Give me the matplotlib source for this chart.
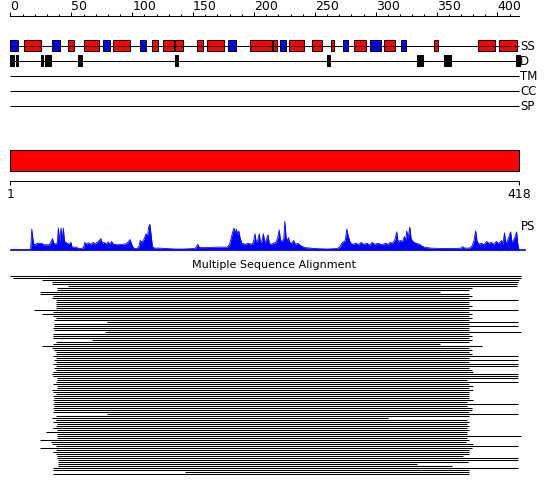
import matplotlib
matplotlib.use("Agg")
import matplotlib.pyplot as plt

# ----------------------------------------------------
# Sequence features (residue positions)
# ----------------------------------------------------

seq_len = 418

ruler_major = list(range(0, 401, 50))
ruler_minor = list(range(0, 411, 10))

track_names = ["SS", "D", "TM", "CC", "SP"]

# secondary structure: H = helix (red), E = strand (blue)
ss_start = [0, 11, 34, 47, 60, 76, 84, 106, 116, 125, 135, 153, 161, 179,
            197, 216, 221, 229, 248, 263, 273, 282, 295, 307, 321, 348, 384, 401]
ss_end = [6, 25, 41, 52, 73, 82, 98, 111, 121, 134, 142, 158, 175, 185,
          215, 219, 226, 241, 256, 266, 277, 292, 304, 316, 325, 351, 398, 416]
ss_type = ["E", "H", "E", "H", "H", "E", "H", "E", "H", "H", "H", "H", "H", "E",
           "H", "H", "E", "H", "H", "H", "E", "H", "E", "H", "E", "H", "H", "H"]

# disordered regions
d_start = [0, 4.8, 25.1, 28.6, 55.4, 135.1, 260.2, 334.1, 356.1, 415.2]
d_end = [2.9, 6.4, 26.7, 33.0, 58.7, 137.6, 262.2, 338.4, 361.8, 418.6]

# domain
dom_start = 1
dom_end = 418

# PS profile (residue, score)
ps_pos = [0, 16.5, 17.5, 18.5, 19.5, 22, 26, 27, 32, 33.5, 34.5, 35.5, 37, 38.5,
          39.3, 40.3, 41.5, 42.5, 43.4, 44.3, 46, 48, 49.7, 50.5, 54, 55, 58, 60,
          61, 62.5, 64, 66, 68, 69.5, 71, 73, 74.2, 75.5, 77, 79, 80, 81.5, 83,
          84.5, 88, 92, 95, 97, 98.2, 99.5, 101, 104, 105.5, 106.5, 108, 109.5,
          111.3, 112.5, 113.5, 114.5, 115.5, 116.5, 118, 122, 128, 135, 142, 150,
          152, 153.9, 155, 160, 170, 178, 180, 181.5, 182.5, 183.6, 184.5, 185.5,
          186.5, 187.5, 188.5, 190, 193, 195, 198, 199.5, 200.8, 201.8, 203,
          204.3, 205.3, 206.5, 207.7, 208.8, 210, 211.5, 212.5, 214, 216, 218,
          219.5, 220.7, 221.8, 223, 224.5, 225.3, 226.3, 227.5, 228.3, 229.3, 231,
          232.5, 234, 236, 238, 240, 242, 250, 260, 268, 270.5, 272, 275, 276.2,
          277.5, 279, 281, 284, 286, 288, 290, 293, 295, 297, 299, 302, 305, 308,
          310, 312, 313.6, 315.5, 317.3, 318.3, 320, 322, 323.5, 324.5, 325.5,
          326.5, 328, 329, 330.5, 333, 336, 338, 340, 345, 355, 365, 370, 371.5,
          373, 377, 379, 380.5, 382.1, 383.2, 385, 387, 389, 391, 393, 395, 397,
          399, 400.5, 402, 403.5, 404.5, 405.7, 406.7, 408, 410.8, 411.8, 413,
          414.5, 415.7, 416.5, 417.2, 418]
ps_val = [0, 0, 22, 10, 5, 7, 7, 5.5, 5.5, 9, 12, 7, 6, 8,
          23, 9, 23, 10, 23, 9, 7.5, 6, 8, 3, 3, 2, 1.5, 2.5,
          8, 6, 7.5, 6, 8, 6, 8, 10, 12, 7, 8, 6, 8.5, 6, 9,
          6, 5.5, 6, 6.5, 9, 11, 6, 2, 1.5, 4, 10, 8, 11,
          17, 14, 24, 27, 15, 4, 2, 2, 1.5, 1, 1, 1.5,
          2, 6, 2.5, 2.5, 3, 3, 6, 14, 19, 23, 17, 22,
          16, 20, 13, 7, 6, 7, 6, 8, 17, 8, 10,
          17, 8, 9, 17, 8, 10, 16, 7, 6, 7, 8,
          13, 21, 10, 9, 12, 30, 14, 9, 13, 8, 7,
          10, 6, 7, 5, 3.5, 2.5, 1.5, 1, 1.5, 3, 7, 10, 22,
          14, 8, 6, 7, 5.5, 8, 6, 7, 5, 8, 6, 7, 5.5, 7,
          6, 8, 7, 10, 19, 8, 10, 9, 14, 10, 20,
          12, 24, 12, 9, 7, 6, 4, 3, 2, 1.5, 1.5, 2, 3.5,
          2, 2, 4, 9, 20, 9, 6, 7, 5.5, 9, 7, 8, 6,
          9, 7, 8, 10, 6, 18, 8, 9, 19, 8, 10,
          14, 19, 8, 2, 0]

# multiple sequence alignment: one row per hit (start / end residue)
msa_start = [0, 2, 26, 34, 34, 47, 38, 38, 24, 24,
             35, 34, 37, 37, 37, 37, 37, 19, 35, 26,
             35, 37, 36, 79, 36, 36, 35, 36, 78, 35,
             35, 35, 67, 37, 35, 26, 34, 36, 37, 37,
             35, 37, 36, 37, 35, 37, 36, 37, 35, 34,
             35, 38, 38, 37, 35, 38, 38, 34, 35, 37,
             35, 36, 35, 36, 35, 36, 35, 36, 35, 79,
             37, 34, 37, 35, 38, 37, 35, 38, 29, 38,
             38, 38, 24, 33, 34, 37, 24, 37, 35, 37,
             38, 38, 39, 39, 39, 39, 35, 35, 143, 35]
msa_end = [419, 419, 418, 417, 416, 416, 379, 377, 353, 377,
           379, 377, 417, 377, 377, 379, 377, 417, 377, 379,
           377, 379, 377, 417, 377, 417, 377, 377, 419, 377,
           379, 377, 379, 377, 353, 387, 377, 379, 377, 379,
           417, 377, 417, 377, 417, 417, 377, 379, 380, 417,
           417, 417, 375, 417, 377, 380, 377, 380, 377, 377,
           377, 377, 380, 375, 417, 375, 379, 379, 377, 417,
           377, 310, 375, 377, 375, 377, 375, 377, 375, 375,
           419, 375, 377, 374, 380, 417, 379, 377, 377, 377,
           372, 417, 417, 376, 334, 363, 417, 377, 377, 377]

# ----------------------------------------------------
# Layout (pixels)
# ----------------------------------------------------

W, H = 550, 495
S = 1.2175      # pixels per residue
X0 = 10.5       # pixel x of residue 0
full_xlim = (-X0 / S, (W - X0) / S)

fig = plt.figure(figsize=(W / 100, H / 100), dpi=100)
fig.patch.set_facecolor("white")


def px_axes(x0, y0, x1, y1):
    return fig.add_axes([x0 / W, 1 - y1 / H, (x1 - x0) / W, (y1 - y0) / H])


def hide_spines(ax, keep=()):
    for name, sp in ax.spines.items():
        sp.set_visible(name in keep)
    ax.patch.set_visible(False)


# ----------------------------------------------------
# Top ruler
# ----------------------------------------------------

ax_r = px_axes(0, 15.5, W, 25)
ax_r.set_xlim(full_xlim)
ax_r.set_ylim(0, 1)
hide_spines(ax_r, keep=("top",))
ax_r.spines["top"].set_bounds(0, seq_len)
ax_r.spines["top"].set_linewidth(0.75)
ax_r.xaxis.tick_top()
ax_r.set_xticks(ruler_major)
ax_r.set_xticks(ruler_minor, minor=True)
ax_r.set_xticklabels([str(v) for v in ruler_major])
ax_r.tick_params(axis="x", which="major", direction="out", length=2.6,
                 width=0.75, pad=-1.0, labelsize=9)
ax_r.tick_params(axis="x", which="minor", direction="out", length=1.4,
                 width=0.75)
for lab in ax_r.get_xticklabels():
    lab.set_horizontalalignment("left")
ax_r.set_yticks([])

# ----------------------------------------------------
# Feature tracks
# ----------------------------------------------------

ax_t = px_axes(0, 38, W, 113)
ax_t.set_xlim(full_xlim)
ax_t.set_ylim(len(track_names) - 0.5, -0.5)
ax_t.set_axis_off()

ax_t.hlines(range(len(track_names)), 0, seq_len, color="black", lw=0.75)

ss_colors = ["#0000FF" if t == "E" else "#FF0000" for t in ss_type]
ax_t.barh([0] * len(ss_start),
          [e - s for s, e in zip(ss_start, ss_end)],
          left=ss_start, height=0.72,
          color=ss_colors, edgecolor="black", linewidth=0.75)

ax_t.barh([1] * len(d_start),
          [e - s for s, e in zip(d_start, d_end)],
          left=d_start, height=0.72,
          color="black", edgecolor="black", linewidth=0.75)

for i, name in enumerate(track_names):
    ax_t.annotate(name, (seq_len, i), xytext=(0.5, -3.2),
                  textcoords="offset points", ha="left", va="baseline",
                  fontsize=8.5)

# ----------------------------------------------------
# Domain bar and sequence ruler
# ----------------------------------------------------

ax_d = px_axes(0, 150, W, 180.7)
ax_d.set_xlim(full_xlim)
ax_d.set_ylim(1, 0)
hide_spines(ax_d, keep=("bottom",))
ax_d.spines["bottom"].set_bounds(dom_start - 1, dom_end)
ax_d.spines["bottom"].set_linewidth(0.75)

ax_d.barh(0.337, dom_end - dom_start + 1, left=dom_start - 1, height=0.674,
          color="#FF0000", edgecolor="black", linewidth=0.75)

ax_d.set_xticks([dom_start - 1, dom_end])
ax_d.set_xticklabels([str(dom_start), str(dom_end)])
ax_d.tick_params(axis="x", direction="out", length=3.1, width=0.75,
                 pad=2.5, labelsize=9)
ax_d.set_yticks([])

# ----------------------------------------------------
# PS profile
# ----------------------------------------------------

ax_p = px_axes(X0, 218, 525, 250)
ax_p.set_xlim(0, (525 - X0) / S)
ax_p.set_ylim(0, 33.6)
hide_spines(ax_p, keep=("bottom",))
ax_p.spines["bottom"].set_color("#0000FF")
ax_p.spines["bottom"].set_linewidth(1.2)
ax_p.fill_between(ps_pos, ps_val, color="#0000FF", lw=0)
ax_p.plot(ps_pos, ps_val, color="#0000FF", lw=0.6)
ax_p.set_xticks([])
ax_p.set_yticks([])

fig.text(521 / W, 1 - 230.5 / H, "PS", ha="left", va="baseline", fontsize=8.5)

# ----------------------------------------------------
# Multiple sequence alignment
# ----------------------------------------------------

fig.text(274 / W, 1 - 268.5 / H, "Multiple Sequence Alignment",
         ha="center", va="baseline", fontsize=8)

n_rows = len(msa_start)
ax_m = px_axes(0, 274.5, W, 274.5 + 2 * n_rows)
ax_m.set_xlim(full_xlim)
ax_m.set_ylim(n_rows - 0.5, -0.5)
ax_m.set_axis_off()
ax_m.hlines(range(n_rows), msa_start, msa_end, color="black", lw=0.75)

fig.savefig("out.png", dpi=100, facecolor="white")
